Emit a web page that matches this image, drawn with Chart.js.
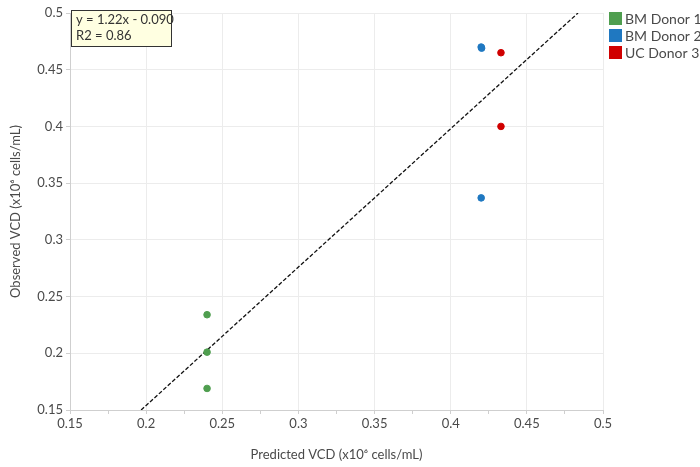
<!DOCTYPE html>
<html>
<head>
<meta charset="utf-8">
<script src="https://cdn.jsdelivr.net/npm/chart.js@4/dist/chart.umd.min.js"></script>
<style>
	html, body { margin: 0; padding: 0; background: #fff; }
	#wrap { width: 700px; height: 467px; }
</style>
</head>
<body>
<div id="wrap"><canvas id="chartVCD"></canvas></div>
<script>
// Datos
const series = ['BM Donor 1', 'BM Donor 2', 'UC Donor 3'];
const colores = ['#4f9e4f', '#1f78c1', '#d00000'];

const donor1X = [0.240, 0.240, 0.240];
const donor1Y = [0.234, 0.201, 0.169];
const donor2X = [0.420, 0.4203, 0.420];
const donor2Y = [0.470, 0.469, 0.337];
const donor3X = [0.433, 0.433];
const donor3Y = [0.465, 0.400];

// Línea de regresión (extremos dentro del área)
const ajusteX = [0.1967, 0.4836];
const ajusteY = [0.15, 0.5];
const ecuacion = ['y = 1.22x - 0.090', 'R2 = 0.86'];

const ticksEje = [0.15, 0.2, 0.25, 0.3, 0.35, 0.4, 0.45, 0.5];

const fuente = 'Lato, "Noto Sans", sans-serif';
const colorTexto = '#4a4a4a';

function puntos(xs, ys) {
	return xs.map((x, i) => ({ x: x, y: ys[i] }));
}

function esMayor(v) {
	return ticksEje.some(t => Math.abs(t - v) < 1e-6);
}

// Caja con la ecuación y leyenda a la derecha
const extras = {
	id: 'extras',
	afterDraw(chart) {
		const ctx = chart.ctx;
		const area = chart.chartArea;
		ctx.save();
		// ecuación
		ctx.font = '13px ' + fuente;
		const bx = area.left + 1, by = area.top - 3;
		ctx.fillStyle = '#ffffe1';
		ctx.fillRect(bx, by, 100, 36);
		ctx.strokeStyle = '#333';
		ctx.lineWidth = 1;
		ctx.strokeRect(bx + 0.5, by + 0.5, 100, 36);
		ctx.fillStyle = '#333';
		ctx.textBaseline = 'middle';
		ctx.fillText(ecuacion[0], bx + 5, by + 10);
		ctx.fillText(ecuacion[1], bx + 5, by + 26);
		// leyenda
		ctx.font = '14px ' + fuente;
		series.forEach((s, i) => {
			const y = 18 + i * 17;
			ctx.fillStyle = colores[i];
			ctx.fillRect(609, y - 6, 13, 13);
			ctx.fillStyle = colorTexto;
			ctx.fillText(s, 625, y + 1);
		});
		ctx.restore();
	}
};

const ctx = document.getElementById('chartVCD').getContext('2d');

new Chart(ctx, {
	type: 'scatter',
	data: {
		datasets: [
			{
				label: series[0],
				data: puntos(donor1X, donor1Y),
				backgroundColor: colores[0],
				borderColor: colores[0],
				pointRadius: 3.3
			},
			{
				label: series[1],
				data: puntos(donor2X, donor2Y),
				backgroundColor: colores[1],
				borderColor: colores[1],
				pointRadius: 3.3
			},
			{
				label: series[2],
				data: puntos(donor3X, donor3Y),
				backgroundColor: colores[2],
				borderColor: colores[2],
				pointRadius: 3.3
			},
			{
				label: 'Ajuste',
				type: 'line',
				data: puntos(ajusteX, ajusteY),
				borderColor: '#111',
				borderWidth: 1.3,
				borderDash: [4, 2],
				pointRadius: 0,
				fill: false
			}
		]
	},
	options: {
		responsive: true,
		maintainAspectRatio: false,
		animation: false,
		layout: {
			padding: { top: 13, right: 97, left: 0, bottom: 0 }
		},
		plugins: {
			legend: { display: false },
			tooltip: { enabled: false }
		},
		scales: {
			x: {
				type: 'linear',
				min: 0.15,
				max: 0.5,
				afterFit: function(scale) { scale.height = 57; },
				ticks: {
					stepSize: 0.025,
					autoSkip: false,
					maxRotation: 0,
					padding: 2,
					color: colorTexto,
					font: { family: fuente, size: 13 },
					callback: function(value) {
						return esMayor(value) ? String(Math.round(value * 100) / 100) : '';
					}
				},
				grid: {
					color: function(c) { return esMayor(c.tick.value) ? '#ececec' : 'rgba(0,0,0,0)'; },
					tickColor: '#cfcfcf',
					tickLength: 4
				},
				border: { color: '#cfcfcf' },
				title: {
					display: true,
					text: 'Predicted VCD (x10\u2076 cells/mL)',
					color: colorTexto,
					font: { family: fuente, size: 13 },
					padding: { top: 6 }
				}
			},
			y: {
				type: 'linear',
				min: 0.15,
				max: 0.5,
				afterFit: function(scale) { scale.width = 70; },
				ticks: {
					stepSize: 0.05,
					padding: 3,
					color: colorTexto,
					font: { family: fuente, size: 13 },
					callback: function(value) {
						return String(Math.round(value * 100) / 100);
					}
				},
				grid: {
					color: '#ececec',
					tickColor: '#cfcfcf',
					tickLength: 4
				},
				border: { color: '#cfcfcf' },
				title: {
					display: true,
					text: 'Observed VCD (x10\u2076 cells/mL)',
					color: colorTexto,
					font: { family: fuente, size: 13 },
					padding: { top: 8, bottom: 0 }
				}
			}
		}
	},
	plugins: [extras]
});
</script>
</body>
</html>
